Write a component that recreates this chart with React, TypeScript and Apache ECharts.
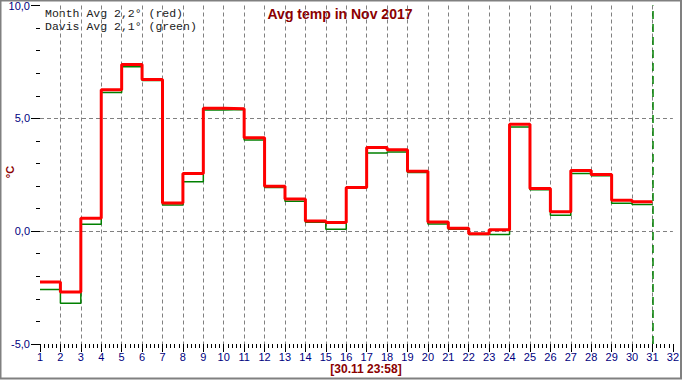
import React, { useEffect, useRef } from "react";
import * as echarts from "echarts";

const days = [1, 2, 3, 4, 5, 6, 7, 8, 9, 10, 11, 12, 13, 14, 15, 16, 17, 18, 19, 20, 21, 22, 23, 24, 25, 26, 27, 28, 29, 30];
const monthAvg = [-2.25, -2.7, 0.57, 6.27, 7.38, 6.72, 1.25, 2.55, 5.45, 5.42, 4.14, 1.99, 1.42, 0.45, 0.38, 1.94, 3.71, 3.61, 2.65, 0.41, 0.13, -0.12, 0.06, 4.74, 1.89, 0.86, 2.69, 2.51, 1.37, 1.3];
const davisAvg = [-2.58, -3.19, 0.31, 6.15, 7.29, 6.68, 1.16, 2.19, 5.37, 5.39, 4.04, 1.94, 1.33, 0.39, 0.09, 1.9, 3.46, 3.51, 2.6, 0.32, 0.09, -0.15, -0.15, 4.62, 1.84, 0.7, 2.56, 2.46, 1.24, 1.18];
const titleText = "Avg temp in Nov 2017";
const legendLines = ["Month Avg 2,2° (red)", "Davis Avg 2,1° (green)"];
const stampText = "[30.11 23:58]";
const yName = "°C";
const markerDay = 31;

function toSteps(vals: number[]) {
  const pts = days.map((d, i) => [d, vals[i]]);
  pts.push([days[days.length - 1] + 1, vals[vals.length - 1]]);
  return pts;
}

export default function App() {
  const ref = useRef<HTMLDivElement>(null);
  useEffect(() => {
    document.body.style.margin = "0";
    const chart = echarts.init(ref.current!, null, { renderer: "svg" });
    const grid = "#808080";
    const navy = "#000080";
    const darkRed = "#8B0000";
    chart.setOption({
      animation: false,
      backgroundColor: "#ffffff",
      grid: { left: 40, right: 6, top: 4, bottom: 36 },
      xAxis: {
        type: "value",
        min: 1,
        max: 32,
        interval: 1,
        axisLine: { show: false, onZero: false },
        axisTick: { show: true, length: 8, lineStyle: { color: "#000", width: 1 } },
        minorTick: { show: true, splitNumber: 5, length: 4, lineStyle: { color: "#000", width: 1 } },
        axisLabel: { color: navy, fontFamily: "Liberation Sans, Arial", fontSize: 11, margin: 7 },
        splitLine: { show: true, showMinLine: false, showMaxLine: false, lineStyle: { color: grid, type: [4, 3], width: 1 } },
      },
      yAxis: {
        type: "value",
        min: -5,
        max: 10,
        interval: 5,
        axisLine: { show: false, onZero: false },
        axisTick: { show: true, length: 9, lineStyle: { color: "#000", width: 1 } },
        minorTick: { show: true, splitNumber: 5, length: 4, lineStyle: { color: "#000", width: 1 } },
        axisLabel: {
          color: navy,
          fontFamily: "Liberation Sans, Arial",
          fontSize: 11,
          margin: 10,
          formatter: (v: number) => v.toFixed(1).replace(".", ","),
        },
        splitLine: { show: true, showMinLine: false, showMaxLine: false, lineStyle: { color: grid, type: [4, 3], width: 1 } },
      },
      series: [
        {
          type: "line",
          name: "Davis",
          step: "end",
          data: toSteps(davisAvg),
          showSymbol: false,
          lineStyle: { color: "#008000", width: 1.5 },
          markLine: {
            silent: true,
            symbol: "none",
            label: { show: false },
            lineStyle: { color: "#008000", type: [8, 5], width: 1.5 },
            data: [{ xAxis: markerDay }],
          },
        },
        {
          type: "line",
          name: "Month",
          step: "end",
          data: toSteps(monthAvg),
          showSymbol: false,
          lineStyle: { color: "#FF0000", width: 3 },
        },
      ],
      graphic: [
        {
          type: "rect",
          shape: { x: 0.5, y: 0.5, width: 680.5, height: 378 },
          style: { fill: "none", stroke: "#808080", lineWidth: 2 },
          silent: true,
        },
        {
          type: "text",
          x: 340,
          y: 14,
          style: {
            text: titleText,
            fill: darkRed,
            font: "bold 14px 'Liberation Sans', Arial",
            textAlign: "center",
            textVerticalAlign: "middle",
          },
        },
        {
          type: "text",
          x: 45,
          y: 13,
          style: {
            text: legendLines[0],
            fill: "#202020",
            font: "11.5px 'Liberation Mono', 'Courier New', monospace",
            textAlign: "left",
            textVerticalAlign: "middle",
          },
        },
        {
          type: "text",
          x: 45,
          y: 26,
          style: {
            text: legendLines[1],
            fill: "#202020",
            font: "11.5px 'Liberation Mono', 'Courier New', monospace",
            textAlign: "left",
            textVerticalAlign: "middle",
          },
        },
        {
          type: "text",
          x: 366,
          y: 369,
          style: {
            text: stampText,
            fill: darkRed,
            font: "bold 12px 'Liberation Sans', Arial",
            textAlign: "center",
            textVerticalAlign: "middle",
          },
        },
        {
          type: "text",
          x: 10,
          y: 172,
          rotation: Math.PI / 2,
          style: {
            text: yName,
            fill: darkRed,
            font: "bold 11px 'Liberation Sans', Arial",
            textAlign: "center",
            textVerticalAlign: "middle",
          },
        },
      ],
    });
    return () => chart.dispose();
  }, []);
  return <div ref={ref} style={{ width: 682, height: 380 }} />;
}
